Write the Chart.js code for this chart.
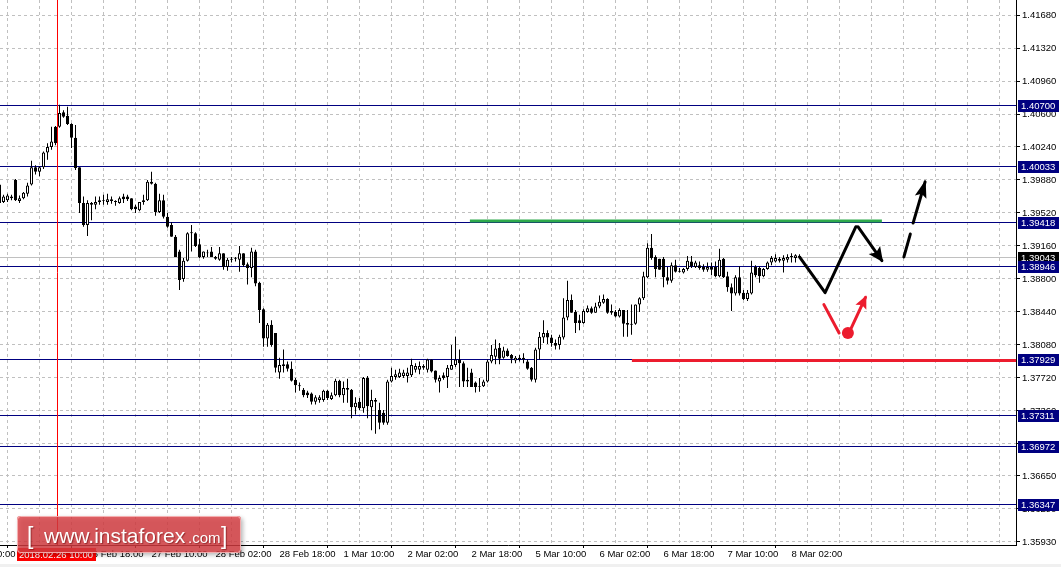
<!DOCTYPE html>
<html>
<head>
<meta charset="utf-8">
<script src="https://cdn.jsdelivr.net/npm/chart.js@4.4.1/dist/chart.umd.min.js"></script>
<style>
  html, body { margin: 0; padding: 0; background: #fff; }
  #wrap { width: 1061px; height: 567px; }
</style>
</head>
<body>
<div id="wrap"><canvas id="GraficoEurUsd" width="1061" height="567"></canvas></div>
<script>
// H1 candles, bar index 0 = 26 Feb 02:00, first bar on screen is index -6
const firstBar = -6;

const opens = [
  1.3983, 1.3964, 1.3966, 1.3970, 1.3988, 1.3965, 1.3968, 1.3973, 1.3983, 1.4002,
  1.3997, 1.4002, 1.4018, 1.4024, 1.4046, 1.4046, 1.4062, 1.4058, 1.4049, 1.4034,
  1.4002, 1.3963, 1.3939, 1.3961, 1.3961, 1.3964, 1.3965, 1.3964, 1.3965, 1.3965,
  1.3963, 1.3970, 1.3970, 1.3968, 1.3959, 1.3955, 1.3964, 1.3966, 1.3986, 1.3984,
  1.3953, 1.3966, 1.3948, 1.3939, 1.3926, 1.3910, 1.3880, 1.3900, 1.3931, 1.3930,
  1.3918, 1.3904, 1.3909, 1.3910, 1.3904, 1.3901, 1.3908, 1.3893, 1.3901, 1.3902,
  1.3901, 1.3908, 1.3896, 1.3892, 1.3910, 1.3876, 1.3847, 1.3815, 1.3830, 1.3821,
  1.3778, 1.3787, 1.3787, 1.3782, 1.3770, 1.3764, 1.3759, 1.3756, 1.3755, 1.3746,
  1.3748, 1.3748, 1.3758, 1.3749, 1.3753, 1.3769, 1.3753, 1.3761, 1.3759, 1.3740,
  1.3746, 1.3739, 1.3772, 1.3740, 1.3748, 1.3737, 1.3734, 1.3723, 1.3768, 1.3773,
  1.3773, 1.3774, 1.3774, 1.3775, 1.3781, 1.3781, 1.3785, 1.3781, 1.3792, 1.3780,
  1.3768, 1.3775, 1.3773, 1.3781, 1.3786, 1.3792, 1.3788, 1.3768, 1.3778, 1.3767,
  1.3763, 1.3763, 1.3768, 1.3790, 1.3795, 1.3805, 1.3794, 1.3802, 1.3797, 1.3791,
  1.3794, 1.3794, 1.3790, 1.3783, 1.3770, 1.3803, 1.3816, 1.3821, 1.3816, 1.3810,
  1.3808, 1.3816, 1.3838, 1.3857, 1.3844, 1.3835, 1.3832, 1.3844, 1.3848, 1.3843,
  1.3850, 1.3854, 1.3858, 1.3845, 1.3844, 1.3839, 1.3846, 1.3832, 1.3831, 1.3831,
  1.3852, 1.3859, 1.3882, 1.3914, 1.3904, 1.3902, 1.3902, 1.3882, 1.3878, 1.3895,
  1.3889, 1.3887, 1.3891, 1.3899, 1.3893, 1.3895, 1.3893, 1.3890, 1.3893, 1.3893,
  1.3883, 1.3902, 1.3883, 1.3871, 1.3864, 1.3882, 1.3865, 1.3858, 1.3864, 1.3893,
  1.3892, 1.3883, 1.3891, 1.3898, 1.3899, 1.3900, 1.3900, 1.3901, 1.3904, 1.3903,
  1.3905
];
const highs = [
  1.3985, 1.3972, 1.3973, 1.3972, 1.3989, 1.3971, 1.3975, 1.3985, 1.4009, 1.4004,
  1.4003, 1.4019, 1.4028, 1.4046, 1.4047, 1.4070, 1.4064, 1.4068, 1.4050, 1.4048,
  1.4002, 1.3970, 1.3966, 1.3964, 1.3970, 1.3970, 1.3972, 1.3973, 1.3970, 1.3966,
  1.3970, 1.3973, 1.3972, 1.3968, 1.3961, 1.3964, 1.3972, 1.3988, 1.3997, 1.3985,
  1.3973, 1.3972, 1.3952, 1.3942, 1.3928, 1.3912, 1.3903, 1.3931, 1.3939, 1.3931,
  1.3924, 1.3910, 1.3912, 1.3915, 1.3905, 1.3915, 1.3908, 1.3903, 1.3904, 1.3904,
  1.3916, 1.3908, 1.3898, 1.3914, 1.3912, 1.3877, 1.3848, 1.3832, 1.3835, 1.3821,
  1.3794, 1.3803, 1.3790, 1.3790, 1.3772, 1.3767, 1.3761, 1.3758, 1.3756, 1.3753,
  1.3753, 1.3759, 1.3759, 1.3756, 1.3771, 1.3770, 1.3768, 1.3771, 1.3760, 1.3751,
  1.3750, 1.3773, 1.3774, 1.3759, 1.3750, 1.3745, 1.3737, 1.3770, 1.3783, 1.3781,
  1.3782, 1.3781, 1.3783, 1.3793, 1.3788, 1.3790, 1.3787, 1.3793, 1.3792, 1.3780,
  1.3775, 1.3778, 1.3786, 1.3808, 1.3817, 1.3803, 1.3790, 1.3783, 1.3782, 1.3768,
  1.3772, 1.3770, 1.3792, 1.3808, 1.3814, 1.3810, 1.3806, 1.3804, 1.3798, 1.3796,
  1.3797, 1.3799, 1.3792, 1.3784, 1.3805, 1.3822, 1.3835, 1.3824, 1.3819, 1.3814,
  1.3819, 1.3859, 1.3878, 1.3863, 1.3846, 1.3841, 1.3847, 1.3851, 1.3850, 1.3854,
  1.3862, 1.3863, 1.3859, 1.3852, 1.3846, 1.3848, 1.3846, 1.3846, 1.3852, 1.3852,
  1.3860, 1.3888, 1.3919, 1.3929, 1.3906, 1.3902, 1.3904, 1.3893, 1.3898, 1.3901,
  1.3892, 1.3892, 1.3905, 1.3905, 1.3900, 1.3899, 1.3896, 1.3898, 1.3898, 1.3899,
  1.3913, 1.3903, 1.3888, 1.3875, 1.3884, 1.3894, 1.3868, 1.3868, 1.3900, 1.3895,
  1.3894, 1.3892, 1.3899, 1.3905, 1.3907, 1.3904, 1.3906, 1.3907, 1.3908, 1.3907,
  1.3907
];
const lows = [
  1.3961, 1.3963, 1.3964, 1.3966, 1.3965, 1.3963, 1.3967, 1.3970, 1.3982, 1.3994,
  1.3992, 1.4000, 1.4010, 1.4021, 1.4026, 1.4045, 1.4056, 1.4048, 1.4023, 1.3999,
  1.3952, 1.3937, 1.3927, 1.3944, 1.3956, 1.3961, 1.3961, 1.3961, 1.3962, 1.3960,
  1.3962, 1.3963, 1.3965, 1.3955, 1.3952, 1.3954, 1.3961, 1.3965, 1.3983, 1.3949,
  1.3952, 1.3946, 1.3936, 1.3926, 1.3904, 1.3868, 1.3877, 1.3899, 1.3910, 1.3915,
  1.3903, 1.3902, 1.3904, 1.3904, 1.3901, 1.3900, 1.3890, 1.3889, 1.3898, 1.3899,
  1.3888, 1.3893, 1.3874, 1.3882, 1.3872, 1.3832, 1.3806, 1.3806, 1.3806, 1.3778,
  1.3771, 1.3778, 1.3779, 1.3768, 1.3756, 1.3758, 1.3751, 1.3750, 1.3743, 1.3743,
  1.3745, 1.3746, 1.3748, 1.3748, 1.3752, 1.3751, 1.3745, 1.3745, 1.3728, 1.3732,
  1.3737, 1.3734, 1.3728, 1.3715, 1.3711, 1.3716, 1.3721, 1.3721, 1.3767, 1.3770,
  1.3772, 1.3772, 1.3767, 1.3773, 1.3778, 1.3776, 1.3781, 1.3778, 1.3778, 1.3767,
  1.3756, 1.3770, 1.3761, 1.3781, 1.3784, 1.3762, 1.3762, 1.3762, 1.3762, 1.3756,
  1.3757, 1.3762, 1.3767, 1.3788, 1.3787, 1.3787, 1.3793, 1.3795, 1.3788, 1.3788,
  1.3790, 1.3788, 1.3781, 1.3768, 1.3767, 1.3792, 1.3810, 1.3809, 1.3806, 1.3803,
  1.3803, 1.3814, 1.3835, 1.3843, 1.3821, 1.3824, 1.3831, 1.3843, 1.3842, 1.3843,
  1.3848, 1.3853, 1.3842, 1.3841, 1.3838, 1.3838, 1.3817, 1.3817, 1.3819, 1.3830,
  1.3844, 1.3857, 1.3881, 1.3901, 1.3882, 1.3890, 1.3871, 1.3874, 1.3876, 1.3887,
  1.3887, 1.3886, 1.3889, 1.3892, 1.3892, 1.3890, 1.3888, 1.3888, 1.3884, 1.3882,
  1.3882, 1.3881, 1.3866, 1.3845, 1.3862, 1.3862, 1.3857, 1.3856, 1.3863, 1.3882,
  1.3876, 1.3882, 1.3890, 1.3895, 1.3898, 1.3898, 1.3887, 1.3898, 1.3898, 1.3898,
  1.3903
];
const closes = [
  1.3963, 1.3970, 1.3971, 1.3968, 1.3966, 1.3968, 1.3974, 1.3982, 1.4002, 1.3997,
  1.4002, 1.4018, 1.4024, 1.4030, 1.4028, 1.4061, 1.4057, 1.4049, 1.4034, 1.4001,
  1.3963, 1.3939, 1.3963, 1.3963, 1.3964, 1.3966, 1.3966, 1.3967, 1.3967, 1.3964,
  1.3968, 1.3967, 1.3967, 1.3956, 1.3956, 1.3964, 1.3966, 1.3986, 1.3984, 1.3953,
  1.3966, 1.3948, 1.3937, 1.3926, 1.3904, 1.3879, 1.3900, 1.3930, 1.3930, 1.3916,
  1.3904, 1.3910, 1.3908, 1.3904, 1.3902, 1.3908, 1.3893, 1.3901, 1.3902, 1.3903,
  1.3908, 1.3895, 1.3892, 1.3910, 1.3875, 1.3846, 1.3815, 1.3830, 1.3808, 1.3783,
  1.3786, 1.3785, 1.3782, 1.3769, 1.3764, 1.3763, 1.3753, 1.3753, 1.3746, 1.3751,
  1.3751, 1.3758, 1.3750, 1.3753, 1.3769, 1.3753, 1.3761, 1.3759, 1.3740, 1.3745,
  1.3739, 1.3772, 1.3741, 1.3748, 1.3746, 1.3723, 1.3723, 1.3768, 1.3774, 1.3776,
  1.3778, 1.3778, 1.3778, 1.3786, 1.3785, 1.3785, 1.3783, 1.3792, 1.3779, 1.3770,
  1.3772, 1.3772, 1.3783, 1.3786, 1.3792, 1.3788, 1.3768, 1.3770, 1.3762, 1.3762,
  1.3762, 1.3768, 1.3790, 1.3797, 1.3804, 1.3793, 1.3802, 1.3796, 1.3793, 1.3794,
  1.3792, 1.3792, 1.3782, 1.3770, 1.3803, 1.3817, 1.3821, 1.3816, 1.3810, 1.3807,
  1.3817, 1.3838, 1.3857, 1.3843, 1.3832, 1.3832, 1.3845, 1.3848, 1.3843, 1.3850,
  1.3855, 1.3858, 1.3843, 1.3843, 1.3839, 1.3846, 1.3831, 1.3830, 1.3830, 1.3852,
  1.3859, 1.3883, 1.3914, 1.3903, 1.3891, 1.3890, 1.3882, 1.3878, 1.3895, 1.3888,
  1.3888, 1.3891, 1.3900, 1.3894, 1.3898, 1.3892, 1.3890, 1.3893, 1.3890, 1.3883,
  1.3901, 1.3882, 1.3871, 1.3864, 1.3882, 1.3864, 1.3858, 1.3865, 1.3887, 1.3884,
  1.3883, 1.3891, 1.3898, 1.3903, 1.3903, 1.3902, 1.3903, 1.3904, 1.3905, 1.3906,
  1.3904
];

// time axis
const timeTickIdx = [-16, 0, 16, 32, 48, 64, 80, 96, 112, 128, 144, 160, 176, 192];
const timeTickLabels = ['23 Feb 10:00', '26 Feb 02:00', '26 Feb 18:00', '27 Feb 10:00', '28 Feb 02:00',
  '28 Feb 18:00', '1 Mar 10:00', '2 Mar 02:00', '2 Mar 18:00', '5 Mar 10:00', '6 Mar 02:00',
  '6 Mar 18:00', '7 Mar 10:00', '8 Mar 02:00'];
const timeGridIdx = [-16, -8, 0, 8, 16, 24, 32, 40, 48, 56, 64, 72, 80, 88, 96, 104, 112, 120, 128,
  136, 144, 152, 160, 168, 176, 184, 192, 200, 208, 216, 224, 232, 240];

// price axis
const priceTicks = [1.41680, 1.41320, 1.40960, 1.40600, 1.40240, 1.39880, 1.39520, 1.39160, 1.38800,
  1.38440, 1.38080, 1.37720, 1.37360, 1.37000, 1.36650, 1.36290, 1.35930];
const levels = [1.40700, 1.40033, 1.39418, 1.38946, 1.37929, 1.37311, 1.36972, 1.36347];
const bidPrice = 1.39043;

// visible range
const barMin = -5.875, barMax = 248.125;
const priceMin = 1.35897, priceMax = 1.41844;

// vertical marker
const markerBar = 8.25;
const markerLabel = '2018.02.26 10:00';

// drawings on the chart: [bar index, price]
const greenLine = [[111.6, 1.39433], [214.6, 1.39433]];
const redLine = [[152.1, 1.37910], [248.125, 1.37910]];
const blackPath = [[194, 1.3904], [200.4, 1.3865], [208.1, 1.3937]];
const blackArrowDown = [[208.6, 1.3937], [214.6, 1.3900]];
const blackDash = [[220.1, 1.3904], [221.7, 1.3929]];
const blackArrowUp = [[222.4, 1.3941], [225.4, 1.3986]];
const redStroke = [[200.1, 1.3852], [203.9, 1.3821]];
const redDot = [[206.1, 1.3821]];
const redArrowUp = [[206.9, 1.3826], [210.5, 1.3860]];

const FONT = '"Liberation Sans", Arial, sans-serif';

const bars = opens.map((_, i) => firstBar + i);
const bodyData = bars.map((x, i) => ({ x: x, y: [opens[i], closes[i]] }));
const wickData = bars.map((x, i) => ({ x: x, y: [lows[i], highs[i]] }));
const bodyFill = bars.map((_, i) => closes[i] >= opens[i] ? '#ffffff' : '#000000');
const pts = arr => arr.map(p => ({ x: p[0], y: p[1] }));

const drawing = (arr, color, extra) => Object.assign({
  type: 'line',
  data: pts(arr),
  borderColor: color,
  borderWidth: 3,
  borderCapStyle: 'round',
  borderJoinStyle: 'round',
  pointRadius: 0,
  tension: 0,
  order: -2
}, extra || {});

const mtOverlay = {
  id: 'mtOverlay',
  beforeDatasetsDraw(chart) {
    const { ctx, chartArea: a, scales: { x, y } } = chart;
    ctx.save();
    ctx.lineWidth = 1;
    const hline = (v, color) => {
      const py = Math.round(y.getPixelForValue(v)) + 0.5;
      ctx.strokeStyle = color;
      ctx.beginPath();
      ctx.moveTo(a.left, py);
      ctx.lineTo(a.right, py);
      ctx.stroke();
    };
    hline(bidPrice, '#c0c0c0');
    levels.forEach(v => hline(v, '#000080'));
    const mx = Math.round(x.getPixelForValue(markerBar)) + 0.5;
    ctx.strokeStyle = '#ff0000';
    ctx.beginPath();
    ctx.moveTo(mx, a.top);
    ctx.lineTo(mx, a.bottom);
    ctx.stroke();
    ctx.restore();
  },
  afterDatasetsDraw(chart) {
    const ctx = chart.ctx;
    chart.data.datasets.forEach((ds, i) => {
      if (!ds.arrowHead) return;
      const el = chart.getDatasetMeta(i).data;
      const p1 = el[el.length - 2], p2 = el[el.length - 1];
      const ang = Math.atan2(p2.y - p1.y, p2.x - p1.x);
      const len = ds.arrowHead[0], half = ds.arrowHead[1];
      ctx.save();
      ctx.translate(p2.x + Math.cos(ang) * 2, p2.y + Math.sin(ang) * 2);
      ctx.rotate(ang);
      ctx.beginPath();
      ctx.moveTo(0, 0);
      ctx.lineTo(-len, -half);
      ctx.lineTo(-len * 0.8, 0);
      ctx.lineTo(-len, half);
      ctx.closePath();
      ctx.fillStyle = ds.borderColor;
      ctx.fill();
      ctx.restore();
    });
  },
  afterDraw(chart) {
    const { ctx, chartArea: a, scales: { x, y } } = chart;
    ctx.save();
    ctx.font = '9.5px ' + FONT;
    ctx.textBaseline = 'middle';

    // price boxes on the right axis
    const box = (v, bg) => {
      const py = Math.round(y.getPixelForValue(v));
      ctx.fillStyle = bg;
      ctx.fillRect(a.right + 2, py - 5, 41, 12);
      ctx.fillStyle = '#ffffff';
      ctx.fillText(v.toFixed(5), a.right + 5, py + 1);
    };
    box(bidPrice, '#000000');
    levels.forEach(v => box(v, '#000080'));

    // bottom strip
    ctx.fillStyle = '#f0f0f0';
    ctx.fillRect(0, 564, chart.width, 3);

    // date label of the red marker
    const mx = Math.round(x.getPixelForValue(markerBar));
    ctx.fillStyle = '#ff0000';
    ctx.fillRect(mx - 40, a.bottom + 3, 79, 13);
    ctx.fillStyle = '#ffffff';
    ctx.textAlign = 'center';
    ctx.fillText(markerLabel, mx - 1, a.bottom + 10);

    // watermark
    ctx.save();
    ctx.shadowColor = 'rgba(0,0,0,0.35)';
    ctx.shadowBlur = 4;
    ctx.shadowOffsetX = 2;
    ctx.shadowOffsetY = 2;
    ctx.beginPath();
    ctx.roundRect(17, 516, 224, 37, 3);
    ctx.fillStyle = 'rgba(219,61,66,0.8)';
    ctx.fill();
    ctx.restore();
    ctx.strokeStyle = 'rgba(255,210,210,0.7)';
    ctx.lineWidth = 1;
    ctx.beginPath();
    ctx.roundRect(17.5, 516.5, 223, 36, 3);
    ctx.stroke();

    ctx.shadowColor = 'rgba(90,0,0,0.5)';
    ctx.shadowBlur = 1;
    ctx.shadowOffsetX = 1;
    ctx.shadowOffsetY = 1;
    ctx.fillStyle = '#ffffff';
    ctx.textAlign = 'left';
    ctx.textBaseline = 'alphabetic';
    ctx.font = '23px ' + FONT;
    ctx.fillText('[', 27, 544);
    ctx.fillText(']', 221, 544);
    ctx.font = '21px ' + FONT;
    ctx.fillText('www.instaforex', 44, 543);
    ctx.font = '15px ' + FONT;
    ctx.fillText('.com', 188, 543);
    ctx.restore();
  }
};

const config = {
  type: 'bar',
  data: {
    datasets: [
      {
        label: 'bodies',
        data: bodyData,
        backgroundColor: bodyFill,
        borderColor: '#000000',
        borderWidth: 1,
        borderSkipped: false,
        barThickness: 3,
        grouped: false,
        inflateAmount: 0,
        order: 0
      },
      {
        label: 'wicks',
        data: wickData,
        backgroundColor: '#000000',
        borderWidth: 0,
        barThickness: 1,
        grouped: false,
        inflateAmount: 0,
        order: 1
      },
      drawing(greenLine, '#2eaa4c', { borderCapStyle: 'butt', order: 2 }),
      drawing(redLine, '#ec1c2e', { borderCapStyle: 'butt', order: 2 }),
      drawing(blackPath, '#000000'),
      drawing(blackArrowDown, '#000000', { arrowHead: [15, 7] }),
      drawing(blackDash, '#000000'),
      drawing(blackArrowUp, '#000000', { arrowHead: [18, 6] }),
      drawing(redStroke, '#ec1c2e'),
      drawing(redArrowUp, '#ec1c2e', { arrowHead: [13, 6] }),
      {
        type: 'line',
        data: pts(redDot),
        showLine: false,
        pointRadius: 6,
        pointBackgroundColor: '#ec1c2e',
        pointBorderWidth: 0,
        order: -2
      }
    ]
  },
  options: {
    responsive: false,
    animation: false,
    devicePixelRatio: 1,
    events: [],
    layout: { padding: 0, autoPadding: false },
    plugins: {
      legend: { display: false },
      tooltip: { enabled: false }
    },
    scales: {
      x: {
        type: 'linear',
        position: 'bottom',
        min: barMin,
        max: barMax,
        offset: false,
        afterBuildTicks: s => { s.ticks = timeGridIdx.map(v => ({ value: v })); },
        afterFit: s => { s.height = 22; s.paddingLeft = 0; s.paddingRight = 0; },
        grid: {
          color: '#c0c0c0',
          lineWidth: 1,
          tickLength: 3,
          tickColor: c => timeTickIdx.includes(c.tick && c.tick.value) ? '#000000' : 'rgba(0,0,0,0)'
        },
        border: { color: '#000000', width: 1, dash: [3, 3] },
        ticks: {
          autoSkip: false,
          maxRotation: 0,
          align: 'start',
          padding: 1,
          color: '#000000',
          font: { family: FONT, size: 9.5 },
          callback: v => {
            const k = timeTickIdx.indexOf(v);
            return k >= 0 ? timeTickLabels[k] : '';
          }
        }
      },
      y: {
        type: 'linear',
        position: 'right',
        min: priceMin,
        max: priceMax,
        afterBuildTicks: s => { s.ticks = priceTicks.map(v => ({ value: v })); },
        afterFit: s => { s.width = 45; s.paddingTop = 0; s.paddingBottom = 0; },
        grid: { color: '#c0c0c0', lineWidth: 1, tickLength: 4, tickColor: '#000000' },
        border: { color: '#000000', width: 1, dash: [3, 3] },
        ticks: {
          padding: 2,
          color: '#000000',
          font: { family: FONT, size: 9.5 },
          callback: v => v.toFixed(5)
        }
      }
    }
  },
  plugins: [mtOverlay]
};

const myChart = new Chart(document.getElementById('GraficoEurUsd'), config);
</script>
</body>
</html>
